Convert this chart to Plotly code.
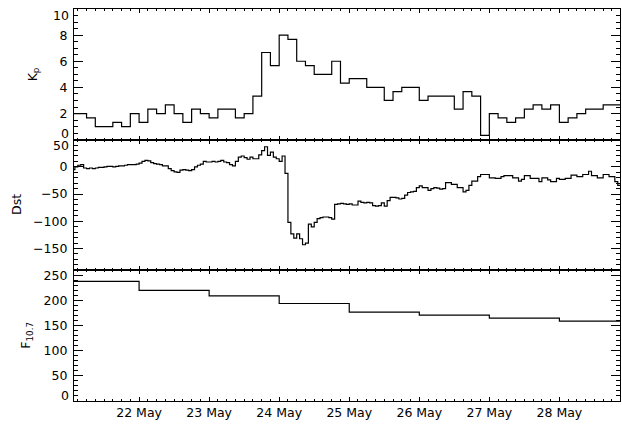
import numpy as np
import pandas as pd
import plotly.graph_objects as go
from plotly.subplots import make_subplots

# ---- data ----
start_date = "2000-05-21"

kp = [2.0, 2.0, 1.67, 1.0, 1.0, 1.33, 1.0, 2.0,
      1.33, 2.33, 2.0, 2.67, 2.0, 1.33, 2.33, 2.0,
      1.67, 2.33, 2.33, 1.67, 2.0, 3.33, 6.67, 5.67,
      8.0, 7.67, 6.0, 5.67, 5.0, 5.0, 6.0, 4.33,
      4.67, 4.67, 4.0, 4.0, 3.0, 3.67, 4.0, 4.0,
      3.0, 3.33, 3.33, 3.33, 2.33, 3.67, 3.33, 0.33,
      2.0, 1.67, 1.33, 1.67, 2.33, 2.67, 2.33, 2.67,
      1.33, 1.67, 2.0, 2.33, 2.33, 2.67, 2.67, 2.67]

dst = [-5, -5, 0, 3, 4, -2, -3, -2, -3, -2,
       -1, -1, 0, 1, 1, 0, 1, 2, 2, 3,
       4, 4, 4, 5, 7, 10, 12, 11, 8, 6,
       5, 4, 2, 2, -3, -7, -9, -10, -6, -5,
       -6, -7, -5, 0, 3, 5, 10, 9, 9, 10,
       9, 10, 12, 9, 8, 4, 2, 10, 18, 20,
       17, 14, 18, 15, 15, 22, 30, 37, 21, 27,
       18, 15, 10, 20, -12, -102, -123, -131, -123, -132,
       -143, -140, -105, -110, -102, -95, -93, -92, -92, -93,
       -96, -69, -68, -67, -68, -69, -68, -70, -70, -63,
       -65, -66, -65, -66, -71, -72, -71, -66, -72, -62,
       -56, -56, -57, -59, -58, -52, -47, -46, -45, -38,
       -35, -38, -38, -43, -40, -38, -39, -41, -40, -29,
       -29, -32, -32, -38, -38, -46, -43, -34, -26, -26,
       -18, -14, -14, -14, -20, -20, -21, -21, -18, -16,
       -16, -16, -20, -20, -26, -23, -16, -16, -21, -21,
       -21, -27, -20, -20, -24, -27, -27, -21, -23, -23,
       -21, -21, -15, -15, -18, -18, -14, -14, -8, -16,
       -16, -20, -20, -14, -14, -18, -18, -27, -34, -34,
       -36, -36]

f107 = [238, 220, 209, 194, 177, 171, 165, 159]

kp_step_hours = 3
dst_step_hours = 1
f107_step_hours = 24

x_range = ["2000-05-21 01:42", "2000-05-28 20:46"]
kp_range = [0, 10]
dst_range = [-190, 50]
f107_range = [0, 260]

kp_ticks = [0, 2, 4, 6, 8, 10]
dst_ticks = [50, 0, -50, -100, -150]
f107_ticks = [0, 50, 100, 150, 200, 250]


def step_xy(values, hours):
    t0 = pd.Timestamp(start_date)
    n = len(values)
    times = [t0 + pd.Timedelta(hours=hours * i) for i in range(n + 1)]
    return times, list(values) + [values[-1]]


FONT = dict(family="DejaVu Sans", size=12.5, color="black")

fig = make_subplots(rows=3, cols=1, shared_xaxes=True, vertical_spacing=0)

for row, (vals, hrs) in enumerate([(kp, kp_step_hours), (dst, dst_step_hours),
                                   (f107, f107_step_hours)], start=1):
    x, y = step_xy(vals, hrs)
    fig.add_trace(go.Scatter(x=x, y=y, mode="lines", line_shape="hv",
                             line=dict(color="black", width=1.2),
                             showlegend=False, hoverinfo="skip"),
                  row=row, col=1)

xcommon = dict(type="date", range=x_range, showline=True, linecolor="black",
               linewidth=1.2, mirror="ticks", ticks="inside", ticklen=4,
               tickcolor="black", tickwidth=1, tick0=start_date,
               dtick=86400000, tickformat="%d %b", showgrid=False,
               zeroline=False, tickfont=FONT, automargin=False,
               minor=dict(ticks="inside", ticklen=2, dtick=3 * 3600000,
                          tick0=start_date, tickcolor="black", showgrid=False))
for row in (1, 2, 3):
    fig.update_xaxes(**xcommon, showticklabels=(row == 3), row=row, col=1)

ycommon = dict(showline=True, linecolor="black", linewidth=1.2, mirror="ticks",
               ticks="inside", ticklen=9, tickcolor="black", tickwidth=1,
               showgrid=False, zeroline=False, tickfont=FONT,
               ticklabelstandoff=3, automargin=False, tickmode="array")


def tick_text(ticks, rng):
    # labels sitting exactly on the panel edge are drawn separately (shifted inward)
    return ["" if t in rng else f"{t}".replace("-", "\u2212") for t in ticks]


panels = [(1, kp_ticks, kp_range, 0.5), (2, dst_ticks, dst_range, 10),
          (3, f107_ticks, f107_range, 10)]
for row, ticks, rng, mdt in panels:
    fig.update_yaxes(**ycommon, range=rng, tickvals=ticks,
                     ticktext=tick_text(ticks, rng),
                     minor=dict(ticks="inside", ticklen=4, dtick=mdt, tick0=0,
                                tickcolor="black"),
                     row=row, col=1)

yref_names = {1: "y", 2: "y2", 3: "y3"}
for row, ticks, rng, _ in panels:
    for t in ticks:
        if t in rng:
            shift = -6 if t == max(rng) else 6
            fig.add_annotation(text=f"{t}", xref="paper", yref=yref_names[row],
                               x=0, y=t, xanchor="right", yanchor="middle",
                               xshift=-4, yshift=shift, showarrow=False,
                               font=FONT, borderpad=0)

L, R, T, B = 74, 2, 9, 27
W, H = 622, 428
pw = W - L - R


def px_to_paper_x(px):
    return (px - L) / pw


labels = [("K<sub>p</sub>", 33, 5 / 6), ("Dst", 16, 0.5), ("F<sub>10.7</sub>", 27, 1 / 6)]
for text, px, yp in labels:
    fig.add_annotation(text=text, xref="paper", yref="paper",
                       x=px_to_paper_x(px), y=yp, xanchor="center",
                       yanchor="middle", textangle=-90, showarrow=False,
                       font=FONT)

fig.update_layout(width=W, height=H,
                  margin=dict(l=L, r=R, t=T, b=B, autoexpand=False),
                  paper_bgcolor="white", plot_bgcolor="white", font=FONT)

fig.write_html("out.html", config={"displayModeBar": False},
               post_script="document.body.style.margin='0';document.body.style.padding='0';")
